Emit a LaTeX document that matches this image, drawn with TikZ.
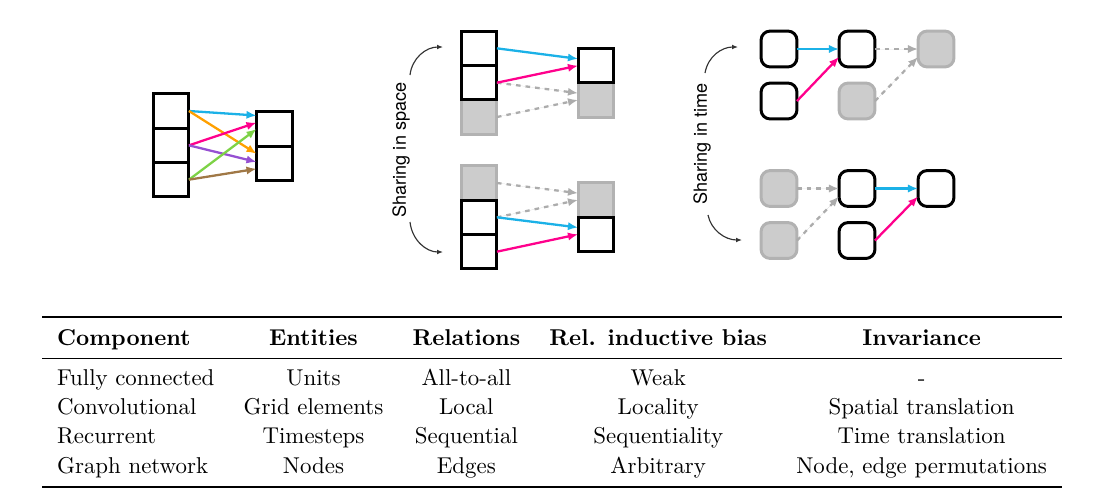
\documentclass[tikz,border=0pt]{standalone}
\usepackage{fontspec}
\setsansfont{TeX Gyre Heros}
\usepackage{booktabs}
\usetikzlibrary{arrows.meta,positioning}
\definecolor{linkcyan}{RGB}{27,177,231}
\definecolor{linkmagenta}{RGB}{255,0,140}
\definecolor{linkorange}{RGB}{255,160,0}
\definecolor{linkpurple}{RGB}{150,80,210}
\definecolor{linkgreen}{RGB}{125,210,70}
\definecolor{linkbrown}{RGB}{160,120,70}
\definecolor{ghostfill}{RGB}{204,204,204}
\definecolor{ghostline}{RGB}{178,178,178}
\definecolor{ghostarrow}{RGB}{172,172,172}

\begin{document}
\begin{tikzpicture}[x=0.437pt,y=-0.437pt,>={Latex[length=4.4pt,width=3.6pt]},
  fcbox/.style={draw,line width=1.3pt,minimum width=15.7pt,minimum height=15pt,inner sep=0pt,outer sep=0pt},
  ghost/.style={fcbox,draw=ghostline,fill=ghostfill},
  stepunit/.style={fcbox,rounded corners=4pt,minimum height=15.7pt},
  ghostunit/.style={stepunit,draw=ghostline,fill=ghostfill},
  relarrow/.style={->,line width=1pt},
  shared/.style={->,line width=1pt,draw=ghostarrow,fill=ghostarrow,dash pattern=on 2pt off 2.2pt},
  swoop/.style={-{Latex[length=2.6pt,width=2.1pt]},line width=0.5pt,draw=black!80},
  sidelabel/.style={rotate=90,font=\sffamily\fontsize{7.9}{9}\selectfont}]
  \useasboundingbox (0,0) rectangle (1108,503);

  % fully connected
  \node[fcbox] (in1) at (171,111) {};
  \node[fcbox,below=0pt of in1] (in2) {};
  \node[fcbox,below=0pt of in2] (in3) {};
  \node[fcbox] (out1) at (274.5,129) {};
  \node[fcbox,below=0pt of out1] (out2) {};
  \foreach \src/\dst/\dy/\col in {in1/out1/5.9/linkcyan,in1/out2/4.2/linkorange,
      in2/out1/2.8/linkmagenta,in2/out2/0.6/linkpurple,
      in3/out1/0/linkgreen,in3/out2/-2.4/linkbrown}
    \draw[relarrow,\col] (\src.east) -- ([yshift=\dy pt]\dst.west);

  % sharing in space
  \node[ghost] (sp3) at (479,117) {};
  \node[fcbox,above=0pt of sp3] (sp2) {};
  \node[fcbox,above=0pt of sp2] (sp1) {};
  \node[ghost] (sq2) at (596,100) {};
  \node[fcbox,above=0pt of sq2] (sq1) {};
  \draw[shared] (sp2.east) -- ([yshift=3pt]sq2.west);
  \draw[shared] (sp3.east) -- (sq2.west);
  \draw[relarrow,linkcyan] (sp1.east) -- ([yshift=3pt]sq1.west);
  \draw[relarrow,linkmagenta] (sp2.east) -- (sq1.west);

  \node[ghost] (sb1) at (479,183) {};
  \node[fcbox,below=0pt of sb1] (sb2) {};
  \node[fcbox,below=0pt of sb2] (sb3) {};
  \node[ghost] (sc1) at (596,200) {};
  \node[fcbox,below=0pt of sc1] (sc2) {};
  \draw[shared] (sb1.east) -- ([yshift=3pt]sc1.west);
  \draw[shared] (sb2.east) -- (sc1.west);
  \draw[relarrow,linkcyan] (sb2.east) -- ([yshift=3pt]sc2.west);
  \draw[relarrow,linkmagenta] (sb3.east) -- (sc2.west);

  \node[sidelabel] (spacelbl) at (401,150) {Sharing in space};
  \coordinate (sa) at (410,75);
  \coordinate (sz) at (443,47);
  \draw[swoop] (sa) .. controls (412,58) and (426,47) .. (sz);
  \coordinate (sc) at (410,222);
  \coordinate (sd) at (443,252);
  \draw[swoop] (sc) .. controls (412,240) and (426,252) .. (sd);

  % sharing in time
  \node[stepunit] (tt1) at (779,49) {};
  \node[stepunit] (tt2) at (857,49) {};
  \node[ghostunit] (tt3) at (936,49) {};
  \node[stepunit] (tu1) at (779,101) {};
  \node[ghostunit] (tu2) at (857,101) {};
  \draw[relarrow,linkcyan] (tt1.east) -- (tt2.west);
  \draw[relarrow,linkmagenta] (tu1.east) -- ([yshift=-3.5pt]tt2.west);
  \draw[shared] (tt2.east) -- (tt3.west);
  \draw[shared] (tu2.east) -- ([yshift=-3.5pt]tt3.west);

  \node[ghostunit] (tb1) at (779,188.5) {};
  \node[stepunit] (tb2) at (857,188.5) {};
  \node[stepunit] (tb3) at (936,188.5) {};
  \node[ghostunit] (tc1) at (779,240.5) {};
  \node[stepunit] (tc2) at (857,240.5) {};
  \draw[shared] (tb1.east) -- (tb2.west);
  \draw[shared] (tc1.east) -- ([yshift=-3.5pt]tb2.west);
  \draw[relarrow,linkcyan] (tb2.east) -- (tb3.west);
  \draw[relarrow,linkmagenta] (tc2.east) -- ([yshift=-3.5pt]tb3.west);

  \node[sidelabel] (timelbl) at (702,144) {Sharing in time};
  \coordinate (ta) at (705,73);
  \coordinate (tz) at (738,47);
  \draw[swoop] (ta) .. controls (708,56) and (722,47) .. (tz);
  \coordinate (tc) at (708,215);
  \coordinate (td) at (742,240);
  \draw[swoop] (tc) .. controls (711,230) and (725,240) .. (td);

  % table
  \node[anchor=north west,inner sep=0pt] (tbl) at (42,316) {%
    \renewcommand{\arraystretch}{1.06}%
    \setlength{\tabcolsep}{6.4pt}%
    \begin{tabular}{lcccc}
      \toprule
      \textbf{Component} & \textbf{Entities} & \textbf{Relations} & \textbf{Rel. inductive bias} & \textbf{Invariance}\\
      \midrule
      Fully connected & Units & All-to-all & Weak & -\\
      Convolutional & Grid elements & Local & Locality & Spatial translation\\
      Recurrent & Timesteps & Sequential & Sequentiality & Time translation\\
      Graph network & Nodes & Edges & Arbitrary & Node, edge permutations\\
      \bottomrule
    \end{tabular}};
\end{tikzpicture}
\end{document}
